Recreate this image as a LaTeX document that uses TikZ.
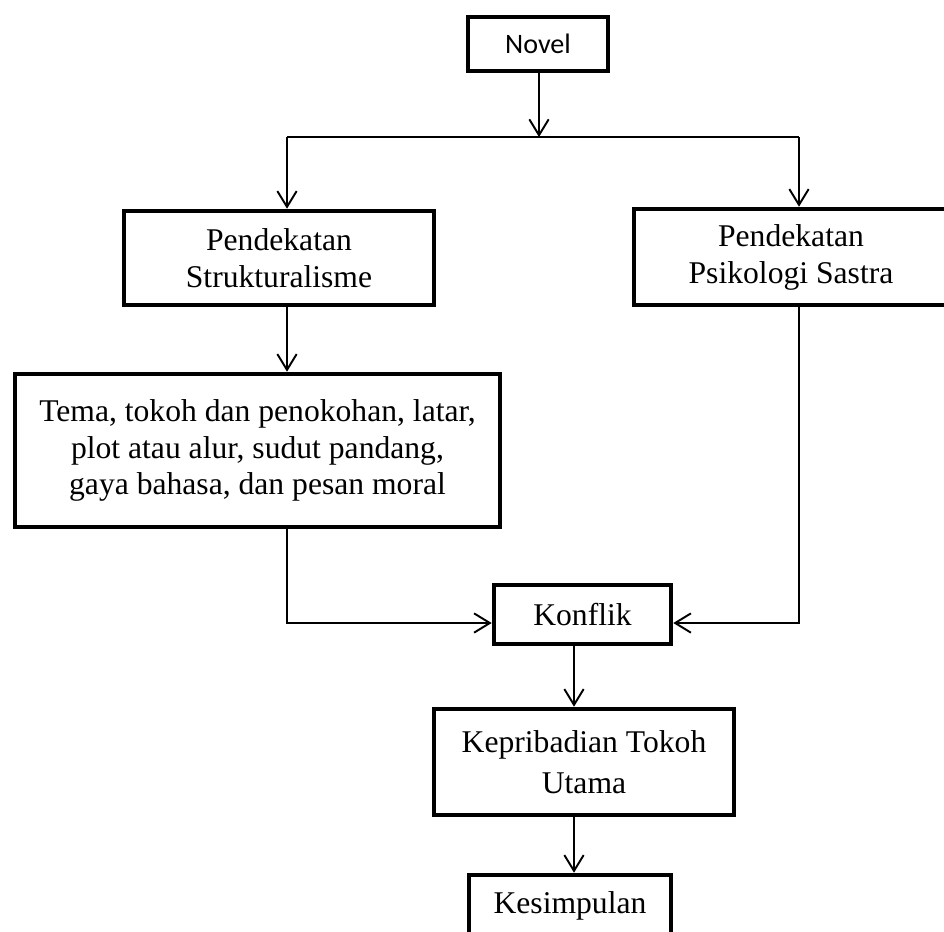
\documentclass[tikz,border=0pt]{standalone}
\usepackage{fontspec}
\setmainfont{Liberation Serif}
\newfontfamily\calibri{Carlito}
\usetikzlibrary{arrows.meta}

\tikzset{
  kotak/.style={draw, line width=2.6pt, align=center, inner sep=0pt},
  panah/.style={->, line width=1.1pt}
}

\begin{document}
\begin{tikzpicture}[x=0.02cm, y=-0.02cm, line join=miter,
    >={Straight Barb[length=9pt,width=11pt,line width=1.1pt]},
    font=\fontsize{18}{21}\selectfont]
  \useasboundingbox (0,0) rectangle (944,931);

  % kotak-kotak
  \node[kotak, minimum width=140*0.02cm, minimum height=54*0.02cm] (novel) at (538,44)
    {\calibri\fontsize{16}{19}\selectfont Novel};
  \node[kotak, minimum width=310*0.02cm, minimum height=94*0.02cm] (struktur) at (279,258)
    {Pendekatan\\Strukturalisme};
  \node[kotak, minimum width=314*0.02cm, minimum height=96*0.02cm] (psiko) at (791,257)
    {Pendekatan\\Psikologi Sastra};
  \node[kotak, minimum width=485*0.02cm, minimum height=153*0.02cm] (unsur) at (257.5,450.5)
    {Tema, tokoh dan penokohan, latar,\\plot atau alur, sudut pandang,\\gaya bahasa, dan pesan moral};
  \node[kotak, minimum width=177*0.02cm, minimum height=59*0.02cm] (konflik) at (582.5,614.5)
    {Konflik};
  \node[kotak, minimum width=300*0.02cm, minimum height=106*0.02cm,
    font=\fontsize{18}{23}\selectfont] (pribadi) at (584,762)
    {Kepribadian Tokoh\\Utama};
  \node[kotak, minimum width=202*0.02cm, minimum height=62*0.02cm] (simpul) at (570,906)
    {Kesimpulan};

  % titik bantu
  \coordinate (cabang) at (539,137);
  \coordinate (kiri) at (287,137);
  \coordinate (kanan) at (799,137);
  \coordinate (temu) at (287,623);
  \coordinate (temuB) at (799,623);
  \coordinate (turun) at (574,0);

  % garis penghubung
  \draw[panah] (novel.south -| cabang) -- (cabang);
  \draw[line width=1.1pt] (kiri) -- (kanan);
  \draw[panah] (kiri) -- (struktur.north -| kiri);
  \draw[panah] (kanan) -- (psiko.north -| kanan);
  \draw[panah] (struktur.south -| kiri) -- (unsur.north -| kiri);
  \draw[panah] (unsur.south -| temu) -- (temu) -- (konflik.west |- temu);
  \draw[panah] (psiko.south -| temuB) -- (temuB) -- (konflik.east |- temuB);
  \draw[panah] (konflik.south -| turun) -- (pribadi.north -| turun);
  \draw[panah] (pribadi.south -| turun) -- (simpul.north -| turun);
\end{tikzpicture}
\end{document}
